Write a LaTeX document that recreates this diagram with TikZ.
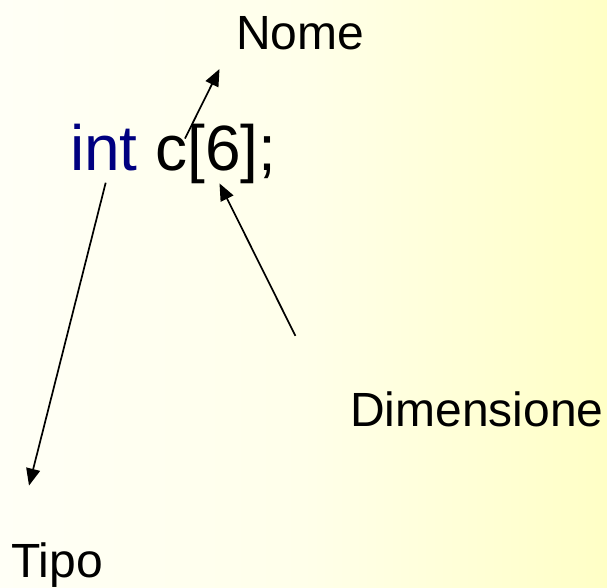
\documentclass[tikz,border=0pt]{standalone}
\usepackage{fontspec}
\setmainfont{Liberation Sans}
\usetikzlibrary{arrows.meta}
\definecolor{intblue}{RGB}{0,0,128}
\definecolor{bgleft}{RGB}{255,255,246}
\definecolor{bgmid}{RGB}{255,255,234}
\definecolor{bgright}{RGB}{255,255,198}
\tikzset{
  lbl/.style={anchor=base west, inner sep=0pt, font=\fontsize{48}{56}\selectfont},
  code/.style={anchor=base west, inner sep=0pt, font=\fontsize{64}{72}\selectfont},
  pointer/.style={line width=1.7pt, -{Triangle[length=17pt,width=14pt]}}
}
\begin{document}
\begin{tikzpicture}[x=1pt,y=-1pt]
  \useasboundingbox (0,0) rectangle (607,587);
  \shade[left color=bgleft, right color=bgright, middle color=bgmid] (0,0) rectangle (607,587);
  \node[lbl] (nome) at (236,49) {Nome};
  \node[code] (decl) at (70,170) {\textcolor{intblue}{int} c[6];};
  \node[lbl] (dim) at (350,426) {Dimensione};
  \node[lbl] (tipo) at (11,577) {Tipo};
  \coordinate (nomeS) at (185,138.5);
  \coordinate (nomeT) at (219.5,69);
  \coordinate (dimS) at (295.4,335.8);
  \coordinate (dimT) at (219.5,183.4);
  \coordinate (tipoS) at (105.7,182.7);
  \coordinate (tipoT) at (29,485.6);
  \draw[pointer] (nomeS) -- (nomeT);
  \draw[pointer] (dimS) -- (dimT);
  \draw[pointer] (tipoS) -- (tipoT);
\end{tikzpicture}
\end{document}
